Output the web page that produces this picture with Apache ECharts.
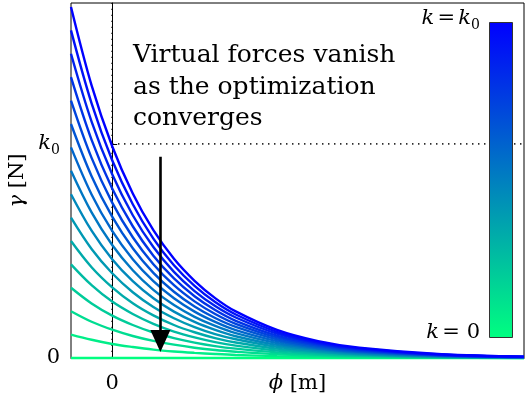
<!DOCTYPE html>
<html><head><meta charset="utf-8">
<script src="https://cdn.jsdelivr.net/npm/echarts@6/dist/echarts.min.js"></script>
<style>html,body{margin:0;padding:0;background:#fff}#c{width:526px;height:399px}</style>
</head><body><div id="c"></div>
<script>
// x positions (phi) at which the curves were read
const phi = [-1, -0.5, 0, 0.5, 1, 1.5, 2, 2.5, 3, 4, 5, 6, 8, 10];
// gamma values, k = 0 ... k = k0 (16 curves)
const gammaK0  = [0, 0, 0, 0, 0, 0, 0, 0, 0, 0, 0, 0, 0, 0];
const gammaK1  = [1.00, 0.78, 0.60, 0.47, 0.36, 0.28, 0.22, 0.17, 0.13, 0.08, 0.05, 0.03, 0.01, 0.00];
const gammaK2  = [2.00, 1.55, 1.21, 0.94, 0.73, 0.57, 0.44, 0.34, 0.27, 0.16, 0.10, 0.06, 0.02, 0.01];
const gammaK3  = [3.00, 2.33, 1.81, 1.41, 1.09, 0.85, 0.66, 0.51, 0.40, 0.24, 0.14, 0.09, 0.03, 0.01];
const gammaK4  = [4.00, 3.11, 2.41, 1.88, 1.46, 1.13, 0.88, 0.68, 0.53, 0.32, 0.19, 0.12, 0.04, 0.02];
const gammaK5  = [5.00, 3.88, 3.02, 2.34, 1.82, 1.41, 1.10, 0.85, 0.66, 0.40, 0.24, 0.15, 0.05, 0.02];
const gammaK6  = [6.00, 4.66, 3.62, 2.81, 2.18, 1.70, 1.32, 1.02, 0.80, 0.48, 0.29, 0.17, 0.06, 0.02];
const gammaK7  = [7.00, 5.44, 4.22, 3.28, 2.55, 1.98, 1.54, 1.20, 0.93, 0.56, 0.34, 0.20, 0.07, 0.03];
const gammaK8  = [8.00, 6.22, 4.83, 3.75, 2.91, 2.26, 1.76, 1.37, 1.06, 0.64, 0.39, 0.23, 0.08, 0.03];
const gammaK9  = [9.00, 6.99, 5.43, 4.22, 3.28, 2.55, 1.98, 1.54, 1.19, 0.72, 0.43, 0.26, 0.10, 0.03];
const gammaK10 = [10.00, 7.77, 6.04, 4.69, 3.64, 2.83, 2.20, 1.71, 1.33, 0.80, 0.48, 0.29, 0.11, 0.04];
const gammaK11 = [11.00, 8.55, 6.64, 5.16, 4.01, 3.11, 2.42, 1.88, 1.46, 0.88, 0.53, 0.32, 0.12, 0.04];
const gammaK12 = [12.00, 9.32, 7.24, 5.63, 4.37, 3.40, 2.64, 2.05, 1.59, 0.96, 0.58, 0.35, 0.13, 0.05];
const gammaK13 = [13.00, 10.10, 7.85, 6.10, 4.74, 3.68, 2.86, 2.22, 1.73, 1.04, 0.63, 0.38, 0.14, 0.05];
const gammaK14 = [14.00, 10.88, 8.45, 6.57, 5.10, 3.96, 3.08, 2.39, 1.86, 1.12, 0.67, 0.41, 0.15, 0.05];
const gammaK15 = [15.00, 11.65, 9.05, 7.03, 5.46, 4.24, 3.30, 2.56, 1.99, 1.20, 0.72, 0.44, 0.16, 0.06];
const curves = [gammaK0, gammaK1, gammaK2, gammaK3, gammaK4, gammaK5, gammaK6, gammaK7,
  gammaK8, gammaK9, gammaK10, gammaK11, gammaK12, gammaK13, gammaK14, gammaK15];

const xRange = [-1, 10];
const yRange = [0, 15.17];
const k0Level = 9.15;
const xTickValues = [0];
const xTickLabels = ['0'];
const yTickValues = [0, 9.15];
const yTickLabels = ['0', 'k0'];
const arrowFrom = [1.17, 8.6];
const arrowTo = [1.17, 0.73];
const noteLines = ['Virtual forces vanish', 'as the optimization', 'converges'];

const FONT = 'DejaVu Serif';

function winter(t) { // t=0 -> green, t=1 -> blue
  const g = Math.round(255 * (1 - t));
  const b = Math.round(255 * (0.5 + 0.5 * t));
  return 'rgb(0,' + g + ',' + b + ')';
}

const series = curves.map((vals, i) => ({
  type: 'line',
  data: phi.map((x, j) => [x, vals[j]]),
  smooth: 0.35,
  showSymbol: false,
  clip: false,
  silent: true,
  lineStyle: { color: winter(i / (curves.length - 1)), width: 2.4 },
  z: 3
}));

// dotted guides
series.push({
  type: 'line', data: [[0, yRange[0]], [0, yRange[1]]], showSymbol: false, silent: true,
  lineStyle: { color: '#000', width: 1.6, type: [1.2, 4.8] }, z: 2
});
series.push({
  type: 'line', data: [[0, k0Level], [xRange[1], k0Level]], showSymbol: false, silent: true,
  lineStyle: { color: '#000', width: 1.6, type: [1.2, 4.8] }, z: 2
});
// arrow
series.push({
  type: 'line', data: [], silent: true,
  markLine: {
    silent: true, animation: false,
    symbol: ['none', 'triangle'], symbolSize: [20, 22],
    label: { show: false },
    lineStyle: { color: '#000', width: 2.6, type: 'solid' },
    data: [[{ coord: arrowFrom }, { coord: arrowTo }]]
  },
  z: 5
});

const mathRich = {
  k: { fontFamily: FONT, fontStyle: 'italic', fontSize: 21, color: '#000', lineHeight: 27 },
  s: { fontFamily: FONT, fontSize: 14, color: '#000', verticalAlign: 'bottom', lineHeight: 16 },
  n: { fontFamily: FONT, fontSize: 21, color: '#000', lineHeight: 27 }
};

const chart = echarts.init(document.getElementById('c'), null, { renderer: 'canvas' });
chart.setOption({
  animation: false,
  backgroundColor: '#fff',
  grid: { left: 71, right: 2, top: 3, bottom: 41, containLabel: false, outerBoundsMode: 'none',
    show: true, borderColor: '#000', borderWidth: 1, backgroundColor: 'transparent' },
  xAxis: {
    type: 'value', min: xRange[0], max: xRange[1],
    axisLine: { show: true, lineStyle: { color: '#000', width: 1 } },
    splitLine: { show: false },
    axisTick: { show: true, inside: true, length: 5, customValues: xTickValues, lineStyle: { color: '#000' } },
    axisLabel: {
      customValues: xTickValues, margin: 15, fontFamily: FONT, fontSize: 21, color: '#000',
      formatter: v => xTickLabels[xTickValues.indexOf(v)] ?? ''
    },
    name: '{g|ϕ} [m]', nameLocation: 'middle', nameGap: 15, nameMoveOverlap: false,
    nameTextStyle: { fontFamily: FONT, fontSize: 21, color: '#000', rich: { g: { fontFamily: FONT, fontStyle: 'italic', fontSize: 21 } } }
  },
  yAxis: {
    type: 'value', min: yRange[0], max: yRange[1],
    axisLine: { show: true, lineStyle: { color: '#000', width: 1 } },
    splitLine: { show: false },
    axisTick: { show: true, inside: true, length: 5, customValues: yTickValues, lineStyle: { color: '#000' } },
    axisLabel: {
      customValues: yTickValues, margin: 11, fontFamily: FONT, fontSize: 21, color: '#000',
      formatter: v => {
        const t = yTickLabels[yTickValues.indexOf(v)];
        return t === 'k0' ? '{k|k}{s|0}' : '{n|' + t + '}';
      },
      rich: mathRich
    },
    name: '{g|γ} [N]', nameLocation: 'middle', nameGap: 43, nameRotate: 90, nameMoveOverlap: false,
    nameTextStyle: { fontFamily: FONT, fontSize: 21, color: '#000', rich: { g: { fontFamily: FONT, fontStyle: 'italic', fontSize: 21 } } }
  },
  series: series,
  graphic: [
    {
      type: 'group', left: 133, top: 43, z: 10,
      children: noteLines.map((t, i) => ({
        type: 'text', x: 0, y: i * 31.5,
        style: { text: t, font: '25px "DejaVu Serif"', fill: '#000' }
      }))
    },
    {
      type: 'rect', left: 489, top: 22, z: 10,
      shape: { width: 23, height: 315 },
      style: {
        fill: new echarts.graphic.LinearGradient(0, 0, 0, 1, [
          { offset: 0, color: winter(1) }, { offset: 1, color: winter(0) }
        ]),
        stroke: '#333', lineWidth: 1
      }
    },
    {
      type: 'text', right: 526 - 480, top: 8, z: 10,
      style: { text: '{k|k} {n|=} {k|k}{s|0}', rich: mathRich, fill: '#000' }
    },
    {
      type: 'text', right: 526 - 480, top: 322, z: 10,
      style: { text: '{k|k} {n|= 0}', rich: mathRich, fill: '#000' }
    }
  ]
});
</script>
</body></html>
